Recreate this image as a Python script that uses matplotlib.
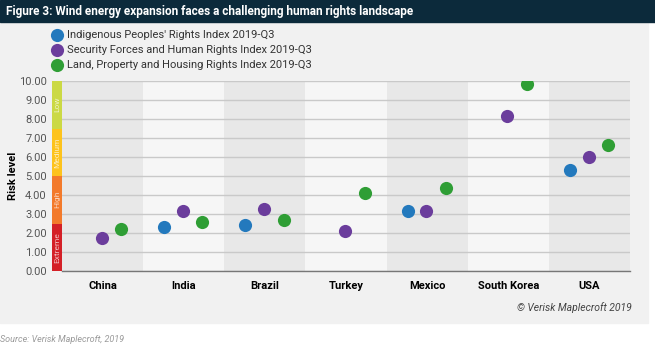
import matplotlib

matplotlib.use("Agg")
import matplotlib.pyplot as plt  # noqa: E402
import numpy as np  # noqa: E402
from matplotlib import font_manager  # noqa: E402
from matplotlib.patches import Rectangle  # noqa: E402

countries = ["China", "India", "Brazil", "Turkey", "Mexico", "South Korea", "USA"]
indigenous = [np.nan, 2.31, 2.42, np.nan, 3.16, np.nan, 5.31]
security = [1.76, 3.16, 3.26, 2.08, 3.16, 8.18, 5.99]
land = [2.19, 2.56, 2.68, 4.13, 4.35, 9.84, 6.63]
series_labels = [
    "Indigenous Peoples' Rights Index 2019-Q3",
    "Security Forces and Human Rights Index 2019-Q3",
    "Land, Property and Housing Rights Index 2019-Q3",
]
band_edges = [0, 2.5, 5, 7.5, 10]
band_labels = ["Extreme", "High", "Medium", "Low"]

COLORS = ["#2379bd", "#6b3d9c", "#2f9e35"]
BAND_COLORS = ["#d42027", "#f37a2b", "#fdc31c", "#cbd944"]

names = {f.name for f in font_manager.fontManager.ttflist}
FONT = "Liberation Sans Narrow" if "Liberation Sans Narrow" in names else "Roboto"
plt.rcParams["font.family"] = [FONT, "DejaVu Sans"]

W, H = 655, 352
fig = plt.figure(figsize=(W / 100, H / 100), dpi=100)


def fx(px):
    return px / W


def fy(py):
    return 1 - py / H


# panel + title bar
fig.patches.append(Rectangle((0, fy(323)), fx(648), fy(22) - fy(323),
                             transform=fig.transFigure, color="#f1f1f1", zorder=-2))
fig.patches.append(Rectangle((0, fy(22)), 1, 1 - fy(22),
                             transform=fig.transFigure, color="#0c2a3b", zorder=-2))
fig.text(fx(6), fy(11), "Figure 3: Wind energy expansion faces a challenging human rights landscape",
         color="white", fontsize=8.5, fontweight="bold", va="center", ha="left")

left, right, top, bottom = 62, 630, 81, 271
ax = fig.add_axes([fx(left), fy(bottom), fx(right - left), fy(top) - fy(bottom)])
ax.set_facecolor("none")
x = np.arange(len(countries))
for i in x:
    ax.axvspan(i - 0.5, i + 0.5, color="#e8e8e8" if i % 2 == 0 else "#f6f6f6", zorder=0, lw=0)
ax.set_xlim(-0.5, len(countries) - 0.5)
ax.set_ylim(0, 10)
ax.set_yticks(np.arange(0, 11, 1))
ax.set_yticklabels([f"{v:.2f}" for v in range(11)])
ax.grid(axis="y", color="#c9c9c9", lw=1, zorder=1)
ax.set_axisbelow(True)
for s in ["top", "right", "left"]:
    ax.spines[s].set_visible(False)
ax.spines["bottom"].set_color("#777777")
ax.spines["bottom"].set_linewidth(1)
ax.tick_params(axis="y", length=0, pad=11, labelsize=8, labelcolor="#555555")
ax.tick_params(axis="x", length=0, pad=7, labelsize=8)
ax.set_xticks(x)
ax.set_xticklabels(countries, fontweight="bold")

offsets = [-0.24, -0.01, 0.23]
for vals, off, col, lab in zip([indigenous, security, land], offsets, COLORS, series_labels):
    ax.scatter(x + off, vals, s=90, color=col, label=lab, zorder=3, linewidths=0)

fig.text(fx(13), fy(176), "Risk level", rotation=90, fontsize=8, fontweight="bold",
         ha="center", va="center")

# risk band
axr = fig.add_axes([fx(52), fy(bottom), fx(10), fy(top) - fy(bottom)])
axr.set_ylim(0, 10)
axr.set_xlim(0, 1)
axr.axis("off")
for lo, hi, col, lab in zip(band_edges[:-1], band_edges[1:], BAND_COLORS, band_labels):
    axr.bar(0.5, hi - lo, bottom=lo, width=1, color=col, lw=0)
    axr.text(0.5, (lo + hi) / 2, lab, rotation=90, fontsize=6, color="white", alpha=0.7,
             ha="center", va="center")

leg = ax.legend(loc="upper left", bbox_to_anchor=(fx(52), fy(30)), bbox_transform=fig.transFigure,
                frameon=False, fontsize=8, handlelength=0.9, handletextpad=0.45,
                labelspacing=0.45, borderpad=0, borderaxespad=0)
for t in leg.get_texts():
    t.set_color("#333333")

fig.text(fx(632), fy(308), "© Verisk Maplecroft 2019", fontsize=7.5, style="italic",
         color="#444444", ha="right", va="center")
fig.text(fx(0), fy(340), "Source: Verisk Maplecroft, 2019", fontsize=6.5, style="italic",
         color="#9a9a9a", ha="left", va="center")

fig.savefig("out.png", dpi=100)
